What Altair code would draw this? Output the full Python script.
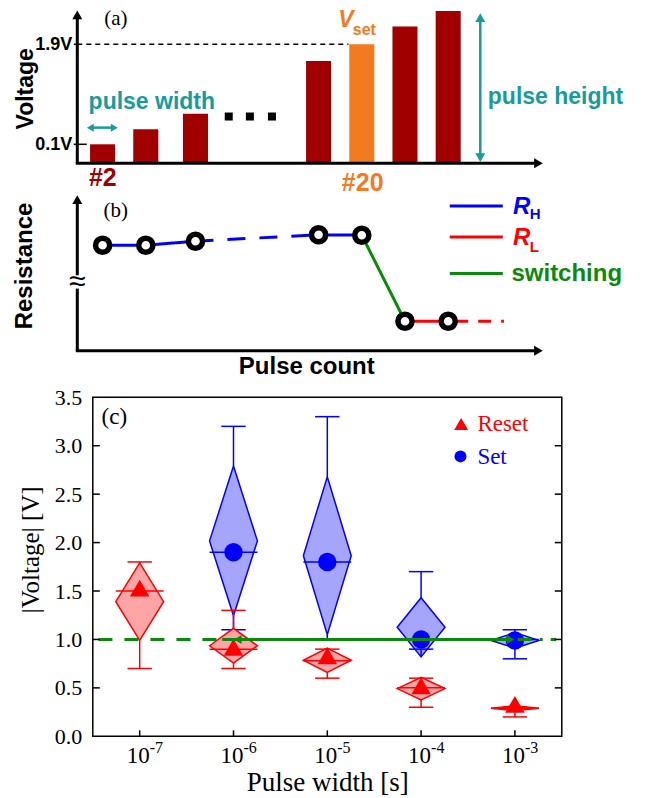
import altair as alt
import pandas as pd

# ---------------- panel (a): pulse train ----------------
pulse_slot = [1, 2, 3.15, 6, 7, 8, 9]
pulse_voltage = [0.1, 0.37, 0.65, 1.6, 1.9, 2.22, 2.5]
pulse_role = ["step", "step", "step", "step", "set", "step", "step"]
ellipsis_slot = [3.92, 4.41, 4.92]
ellipsis_level = 0.6
a_tick_values = [0.1, 1.9]
a_tick_labels = ["0.1V", "1.9V"]
a_axis_level = -0.242

# ---------------- panel (b): resistance ----------------
res_slot = [1, 2, 3.15, 6, 7, 8, 9]
res_value = [5.28, 5.28, 5.48, 5.8, 5.78, 1.48, 1.48]
res_tail_slot = 10.29
seg_state = ["R_H", "R_H", "R_H", "R_H", "switching", "R_L", "R_L"]
seg_style = ["solid", "solid", "dash", "solid", "solid", "solid", "tail"]
legend_states = ["R_H", "R_L", "switching"]
legend_levels = [7.24, 5.69, 3.86]

# ---------------- panel (c): statistics ----------------
pulse_width = [1e-7, 1e-6, 1e-5, 1e-4, 1e-3]
pw_exponents = ["-7", "-6", "-5", "-4", "-3"]
c_ytick_values = [0, 0.5, 1.0, 1.5, 2.0, 2.5, 3.0, 3.5]
reset_min = [0.70, 0.70, 0.60, 0.30, 0.20]
reset_q1 = [0.99, 0.755, 0.66, 0.375, 0.265]
reset_median = [1.50, 0.90, 0.78, 0.50, 0.29]
reset_q3 = [1.79, 1.115, 0.91, 0.61, 0.315]
reset_max = [1.80, 1.30, 0.90, 0.60, 0.30]
reset_mean = [1.53, 0.92, 0.83, 0.52, 0.33]
set_width = [1e-6, 1e-5, 1e-4, 1e-3]
set_min = [1.10, 1.00, 0.90, 0.80]
set_q1 = [1.245, 1.05, 0.82, 0.91]
set_median = [1.90, 1.80, 1.00, 1.00]
set_q3 = [2.79, 2.68, 1.43, 1.07]
set_max = [3.20, 3.30, 1.70, 1.10]
set_mean = [1.90, 1.80, 1.00, 0.99]
threshold = 1.0

# ---------------- styling ----------------
SANS = "Liberation Sans"
SERIF = "Liberation Serif"
DARK_RED = "#a00000"
ORANGE = "#f47a1f"
TEAL = "#179b9b"
BLUE = "#0000ff"
RED = "#ff0000"
GREEN = "#0a8a0a"
RED_FILL = "#ffa5a5"
BLUE_FILL = "#a5a5fb"
STATE_COLOR = {"R_H": BLUE, "R_L": RED, "switching": GREEN}
STYLE_DASH = {"solid": [1, 0], "dash": [18, 14], "tail": [20, 10, 13, 10]}
NO_FRAME = alt.ViewBackground(strokeWidth=0, strokeOpacity=0)

W, HA, HB, HC = 469, 182, 207, 339
SLOT_DOM = [0.7731, 11.630]
A_DOM = [-0.728, 2.548]
B_DOM = [-2.325, 8.025]
AX = 0.414  # slot position of the schematic vertical axes


def enc_xy(xdom, ydom):
    return dict(
        x=alt.X("x:Q", scale=alt.Scale(domain=xdom, nice=False, zero=False), axis=None),
        y=alt.Y("y:Q", scale=alt.Scale(domain=ydom, nice=False, zero=False), axis=None),
    )


def text_layer(xdom, ydom, texts, xs, ys, **kw):
    df = pd.DataFrame({"x": xs, "y": ys, "t": texts})
    return alt.Chart(df).mark_text(**kw).encode(text="t:N", **enc_xy(xdom, ydom))


def rule_layer(xdom, ydom, x, y, x2, y2, **kw):
    df = pd.DataFrame({"x": x, "y": y, "x2": x2, "y2": y2})
    return alt.Chart(df).mark_rule(**kw).encode(x2="x2:Q", y2="y2:Q", **enc_xy(xdom, ydom))


def point_layer(xdom, ydom, x, y, **kw):
    df = pd.DataFrame({"x": x, "y": y})
    return alt.Chart(df).mark_point(opacity=1, **kw).encode(**enc_xy(xdom, ydom))


# ================= panel (a) =================
D = (SLOT_DOM, A_DOM)
bars_df = pd.DataFrame({
    "x": [s - 0.29 for s in pulse_slot],
    "x2": [s + 0.29 for s in pulse_slot],
    "y": pulse_voltage,
    "y2": [a_axis_level] * len(pulse_slot),
    "role": pulse_role,
})


def bar_layer(role, color):
    return alt.Chart(bars_df[bars_df.role == role]).mark_rect(color=color).encode(
        x2="x2:Q", y2="y2:Q", **enc_xy(*D))


panel_a = alt.layer(
    # invisible layout anchor (top-left corner of the figure)
    rule_layer(*D, [-1.333], [2.75], [-1.333], [2.70], opacity=0),
    bar_layer("step", DARK_RED),
    bar_layer("set", ORANGE),
    rule_layer(*D, [AX], [1.9], [6.69], [1.9], color="black", strokeWidth=1.5, strokeDash=[5, 4]),
    rule_layer(*D, [AX, 0.38], [a_axis_level, a_axis_level], [AX, 11.0], [2.40, a_axis_level],
               color="black", strokeWidth=3),
    point_layer(*D, [AX], [2.431], shape="triangle-up", filled=True, color="black", size=100),
    point_layer(*D, [11.09], [a_axis_level], shape="triangle-right", filled=True, color="black", size=100),
    rule_layer(*D, [0.333, 0.333], a_tick_values, [0.634, 0.414], a_tick_values, color="black", strokeWidth=1.5),
    text_layer(*D, a_tick_labels, [0.30, 0.30], a_tick_values, align="right", baseline="middle",
               font=SANS, fontWeight="bold", fontSize=18, dy=1, color="black"),
    point_layer(*D, ellipsis_slot, [ellipsis_level] * 3, shape="square", filled=True, color="black", size=64),
    rule_layer(*D, [0.715], [0.4], [1.271], [0.4], color=TEAL, strokeWidth=2.5),
    point_layer(*D, [0.715], [0.4], shape="triangle-left", filled=True, color=TEAL, size=64),
    point_layer(*D, [1.271], [0.4], shape="triangle-right", filled=True, color=TEAL, size=64),
    rule_layer(*D, [9.743], [-0.12], [9.743], [2.36], color=TEAL, strokeWidth=2.5),
    point_layer(*D, [9.743], [2.380], shape="triangle-up", filled=True, color=TEAL, size=100),
    point_layer(*D, [9.743], [-0.141], shape="triangle-down", filled=True, color=TEAL, size=100),
    text_layer(*D, ["(a)"], [1.306], [2.35], font=SERIF, fontSize=21, color="black", baseline="middle"),
    text_layer(*D, ["Voltage"], [-0.778], [1.099], font=SANS, fontSize=23, fontWeight="bold",
               angle=270, baseline="middle", color="black"),
    text_layer(*D, ["pulse width"], [2.139], [0.865], font=SANS, fontSize=23, fontWeight="bold",
               color=TEAL, baseline="middle"),
    text_layer(*D, ["pulse height"], [9.917], [0.946], font=SANS, fontSize=23, fontWeight="bold",
               color=TEAL, baseline="middle", align="left"),
    text_layer(*D, ["#2"], [1.005], [-0.503], font=SANS, fontSize=25, fontWeight="bold",
               color=DARK_RED, baseline="middle"),
    text_layer(*D, ["#20"], [7.021], [-0.593], font=SANS, fontSize=25, fontWeight="bold",
               color=ORANGE, baseline="middle"),
    text_layer(*D, ["V"], [6.630], [2.21], font=SANS, fontSize=23, fontWeight="bold",
               fontStyle="italic", color=ORANGE, baseline="alphabetic"),
    text_layer(*D, ["set"], [6.792], [2.07], font=SANS, fontSize=16, fontWeight="bold",
               color=ORANGE, baseline="alphabetic", align="left"),
).properties(width=W, height=HA, view=NO_FRAME)

# ================= panel (b) =================
D = (SLOT_DOM, B_DOM)
pts_x = res_slot + [res_tail_slot]
pts_y = res_value + [res_value[-1]]
seg_layers = []
for i, (st, sty) in enumerate(zip(seg_state, seg_style)):
    df = pd.DataFrame({"x": [pts_x[i], pts_x[i + 1]], "y": [pts_y[i], pts_y[i + 1]]})
    seg_layers.append(alt.Chart(df).mark_line(strokeWidth=3, color=STATE_COLOR[st],
                                              strokeDash=STYLE_DASH[sty]).encode(**enc_xy(*D)))
b_pts = alt.Chart(pd.DataFrame({"x": res_slot, "y": res_value})).mark_point(
    shape="circle", filled=True, fill="white", stroke="black", strokeWidth=5.5, size=200,
    opacity=1, fillOpacity=1, strokeOpacity=1,
).encode(**enc_xy(*D))
leg_layers = [
    rule_layer(*D, [9.037], [lvl], [10.264], [lvl], color=STATE_COLOR[st], strokeWidth=3)
    for st, lvl in zip(legend_states, legend_levels)
]

panel_b = alt.layer(
    rule_layer(*D, [AX, AX, 0.38], [0, 3.775, 0], [AX, AX, 11.0], [3.11, 7.5, 0], color="black", strokeWidth=3),
    point_layer(*D, [AX], [7.56], shape="triangle-up", filled=True, color="black", size=100),
    point_layer(*D, [11.09], [0], shape="triangle-right", filled=True, color="black", size=100),
    text_layer(*D, ["≈"], [AX], [3.44], font=SANS, fontSize=30, color="black", baseline="middle"),
    *seg_layers,
    b_pts,
    *leg_layers,
    text_layer(*D, ["R"], [10.503], [6.86], font=SANS, fontSize=24, fontWeight="bold",
               fontStyle="italic", align="left", baseline="alphabetic", color=BLUE),
    text_layer(*D, ["R"], [10.503], [5.275], font=SANS, fontSize=24, fontWeight="bold",
               fontStyle="italic", align="left", baseline="alphabetic", color=RED),
    text_layer(*D, ["H"], [10.889], [6.61], font=SANS, fontSize=15, fontWeight="bold", color=BLUE,
               align="left", baseline="alphabetic"),
    text_layer(*D, ["L"], [10.889], [4.94], font=SANS, fontSize=15, fontWeight="bold", color=RED,
               align="left", baseline="alphabetic"),
    text_layer(*D, ["switching"], [10.465], [3.475], font=SANS, fontSize=24, fontWeight="bold", color=GREEN,
               align="left", baseline="alphabetic"),
    text_layer(*D, ["(b)"], [1.306], [6.975], font=SERIF, fontSize=21, color="black", baseline="middle"),
    text_layer(*D, ["Resistance"], [-0.801], [4.24], font=SANS, fontSize=24, fontWeight="bold",
               angle=270, baseline="middle", color="black"),
    text_layer(*D, ["Pulse count"], [5.727], [-0.825], font=SANS, fontSize=24, fontWeight="bold",
               baseline="middle", color="black"),
).properties(width=W, height=HB, view=NO_FRAME)

# ================= panel (c) =================
HW = 10 ** 0.255
CAP = 10 ** 0.13
XC_SCALE = alt.Scale(type="log", domain=[10 ** -7.5, 10 ** -2.5], nice=False)
YC_SCALE = alt.Scale(domain=[0, 3.5], nice=False, zero=False)
XC_AXIS = alt.Axis(values=pulse_width, labels=False, ticks=False, domain=False, grid=False,
                   title="Pulse width [s]", titleFont=SERIF, titleFontSize=27,
                   titleFontWeight="normal", titleColor="black", titlePadding=33)
YC_AXIS = alt.Axis(values=c_ytick_values, format=".1f", tickSize=0, domain=False, grid=False,
                   labelFont=SERIF, labelFontSize=22, labelColor="black", labelPadding=11,
                   title="|Voltage| [V]", titleFont=SERIF, titleFontSize=25, titleFontWeight="normal",
                   titleColor="black", titlePadding=11, titleY=152)


def xc(f="x"):
    return alt.X(f"{f}:Q", scale=XC_SCALE, axis=XC_AXIS)


def yc(f="y"):
    return alt.Y(f"{f}:Q", scale=YC_SCALE, axis=YC_AXIS)


def stats_layers(widths, mn, q1, med, q3, mx, mean, line_color, fill_color, shape, size):
    rows = []
    for k, c in enumerate(widths):
        mid = (q1[k] + q3[k]) / 2
        rows += [
            {"id": k, "x": c / HW, "y": mid, "y2": mid},
            {"id": k, "x": c, "y": q3[k], "y2": q1[k]},
            {"id": k, "x": c * HW, "y": mid, "y2": mid},
        ]
    dia = alt.Chart(pd.DataFrame(rows)).mark_area(
        fill=fill_color, stroke=line_color, strokeWidth=1.5, fillOpacity=1, opacity=1
    ).encode(x=xc(), y=alt.Y("y:Q", scale=YC_SCALE, axis=YC_AXIS, stack=None), y2="y2:Q", detail="id:N")
    box = pd.DataFrame({"c": widths, "lo": [c / HW for c in widths], "hi": [c * HW for c in widths],
                        "clo": [c / CAP for c in widths], "chi": [c * CAP for c in widths],
                        "mn": mn, "q1": q1, "med": med, "q3": q3, "mx": mx, "mean": mean})
    base = alt.Chart(box)
    r = dict(color=line_color, strokeWidth=1.5)
    return [
        dia,
        base.mark_rule(**r).encode(x=xc("lo"), x2="hi:Q", y=yc("med")),
        base.mark_rule(**r).encode(x=xc("c"), y=yc("q3"), y2="mx:Q"),
        base.mark_rule(**r).encode(x=xc("c"), y=yc("q1"), y2="mn:Q"),
        base.mark_rule(**r).encode(x=xc("clo"), x2="chi:Q", y=yc("mx")),
        base.mark_rule(**r).encode(x=xc("clo"), x2="chi:Q", y=yc("mn")),
    ], base.mark_point(shape=shape, filled=True, color=line_color, size=size, opacity=1).encode(
        x=xc("c"), y=yc("mean"))


set_parts, set_pts = stats_layers(set_width, set_min, set_q1, set_median, set_q3, set_max, set_mean,
                                  BLUE, BLUE_FILL, "circle", 340)
reset_parts, reset_pts = stats_layers(pulse_width, reset_min, reset_q1, reset_median, reset_q3, reset_max,
                                      reset_mean, RED, RED_FILL, "triangle-up", 380)


def seg_c(x1, x2, **kw):
    df = pd.DataFrame({"x": [x1], "x2": [x2], "y": [threshold]})
    return alt.Chart(df).mark_rule(color=GREEN, **kw).encode(x=xc(), x2="x2:Q", y=yc())


def pt_c(xs, ys, **kw):
    df = pd.DataFrame({"x": xs, "y": ys})
    return alt.Chart(df).mark_point(opacity=1, filled=True, **kw).encode(x=xc(), y=yc())


def txt_c(texts, xs, ys, **kw):
    df = pd.DataFrame({"x": xs, "y": ys, "t": texts})
    return alt.Chart(df).mark_text(**kw).encode(x=xc(), y=yc(), text="t:N")


ticks_df = pd.DataFrame({"y": c_ytick_values[1:-1]})
xt_df = pd.DataFrame({"x": pulse_width, "base": ["10"] * len(pulse_width), "exp": pw_exponents})
panel_c = alt.layer(
    *set_parts,
    *reset_parts,
    set_pts,
    reset_pts,
    seg_c(10 ** -7.44, 10 ** -6.1, strokeWidth=3, strokeDash=[14, 12]),
    seg_c(10 ** -6.12, 10 ** -3.03, strokeWidth=3),
    seg_c(10 ** -2.97, 10 ** -2.56, strokeWidth=3, strokeDash=[14, 8, 3, 8]),
    pt_c([10 ** -5.955], [threshold], shape="triangle-left", color=GREEN, size=80),
    pt_c([10 ** -3.045], [threshold], shape="triangle-right", color=GREEN, size=80),
    alt.Chart(ticks_df).mark_rule(color="black", strokeWidth=1.5).encode(
        x=alt.value(0), x2=alt.value(7), y=yc()),
    alt.Chart(ticks_df).mark_rule(color="black", strokeWidth=1.5).encode(
        x=alt.value(W - 7), x2=alt.value(W), y=yc()),
    alt.Chart(xt_df).mark_rule(color="black", strokeWidth=1.5).encode(
        x=xc(), y=alt.value(HC - 6), y2=alt.value(HC)),
    alt.Chart(xt_df).mark_text(font=SERIF, fontSize=23, color="black", align="right",
                               baseline="alphabetic", dx=10).encode(
        x=xc(), y=alt.value(HC + 27), text="base:N"),
    alt.Chart(xt_df).mark_text(font=SERIF, fontSize=16, color="black", align="left",
                               baseline="alphabetic", dx=10).encode(
        x=xc(), y=alt.value(HC + 17), text="exp:N"),
    pt_c([10 ** -3.573], [3.224], shape="triangle-up", color=RED, size=196),
    pt_c([10 ** -3.58], [2.89], shape="circle", color=BLUE, size=144),
    txt_c(["Reset"], [10 ** -3.40], [3.224], font=SERIF, fontSize=23, color=RED, align="left", baseline="middle"),
    txt_c(["Set"], [10 ** -3.40], [2.88], font=SERIF, fontSize=23, color=BLUE, align="left", baseline="middle"),
    txt_c(["(c)"], [10 ** -7.407], [3.30], font=SERIF, fontSize=23, color="black", align="left",
          baseline="middle"),
).properties(width=W, height=HC, view=alt.ViewBackground(stroke="black", strokeWidth=1.5))

chart = alt.vconcat(panel_a, panel_b, panel_c, spacing=0, bounds="flush").properties(
    padding={"left": -6.2, "top": -11.7, "right": 0, "bottom": 0}
).configure_view(stroke="transparent", strokeWidth=0).configure(background="white")

chart.save("out.html", embed_options={"renderer": "svg", "actions": False})
